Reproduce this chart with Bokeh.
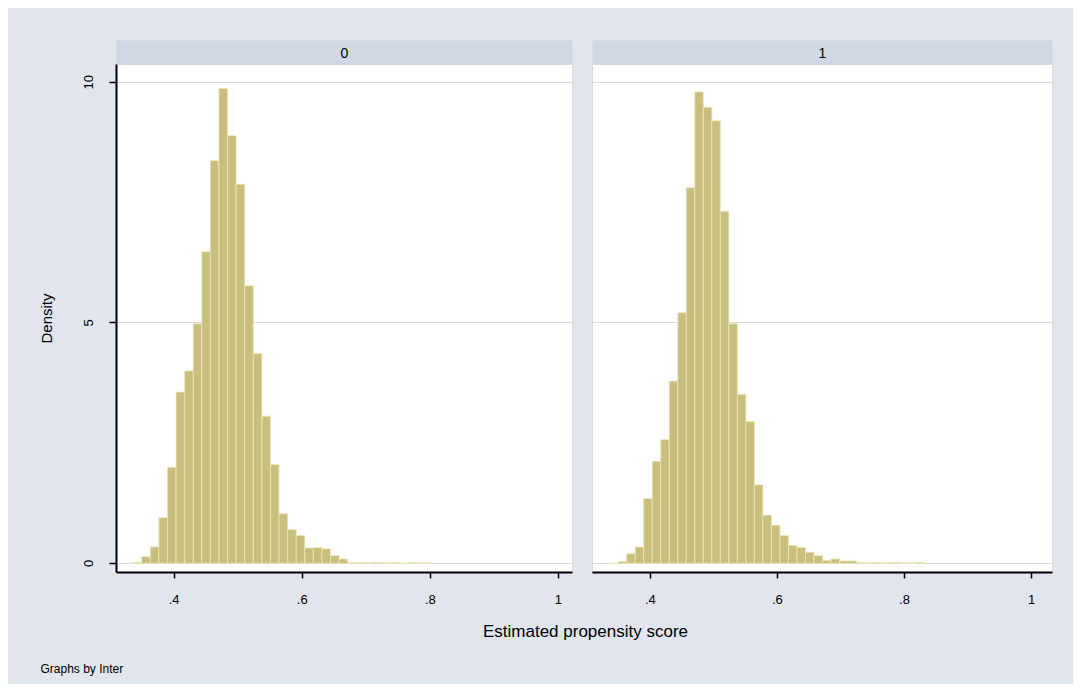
from bokeh.plotting import figure
from bokeh.layouts import row, column
from bokeh.models import Range1d, FixedTicker, CustomJSTickFormatter, Label, Spacer
from bokeh.embed import file_html
from bokeh.resources import INLINE

# ---------------- data ----------------
panel_names = ["0", "1"]
bin_start = 0.336
bin_width = 0.0134
density_0 = [0.02, 0.14, 0.34, 0.95, 2.00, 3.56, 4.00, 4.98, 6.48, 8.37,
             9.87, 8.89, 7.88, 5.77, 4.36, 3.06, 2.05, 1.03, 0.70, 0.58,
             0.32, 0.33, 0.30, 0.16, 0.09, 0.02, 0.02, 0.01, 0.02, 0.01,
             0.02, 0.00, 0.02, 0.01, 0.01]
density_1 = [0.00, 0.04, 0.20, 0.34, 1.35, 2.12, 2.57, 3.79, 5.21, 7.81,
             9.80, 9.48, 9.20, 7.32, 4.98, 3.51, 2.95, 1.63, 1.00, 0.79,
             0.58, 0.37, 0.33, 0.23, 0.16, 0.06, 0.09, 0.05, 0.05, 0.02,
             0.01, 0.02, 0.01, 0.02, 0.01, 0.01, 0.02]
x_ticks = [0.4, 0.6, 0.8, 1.0]
x_tick_labels = [".4", ".6", ".8", "1"]
y_ticks = [0, 5, 10]
y_tick_labels = ["0", "5", "10"]
x_title = "Estimated propensity score"
y_title = "Density"
note = "Graphs by Inter"

# ---------------- style ----------------
FONT = "Liberation Sans"
BG = "#e0e5ee"
STRIP = "#cfd8e4"
BAR_FILL = "#c8bf7e"
BAR_LINE = "#ece6b3"
GRID = "#dcdcdc"
XR_LEFT = (0.310, 1.022)
XR_RIGHT = (0.309, 1.033)
YR = (-0.19, 10.37)


def tick_fmt(tvals, tlabels):
    return CustomJSTickFormatter(args=dict(tvals=tvals, tlabels=tlabels), code="""
        let best = 0;
        for (let i = 0; i < tvals.length; i++) {
            if (Math.abs(tvals[i] - tick) < Math.abs(tvals[best] - tick)) best = i;
        }
        return tlabels[best];
    """)


def strip(name, fw, bl, br):
    s = figure(frame_width=fw, frame_height=24, x_range=Range1d(0, 1), y_range=Range1d(0, 1),
               min_border_left=bl, min_border_right=br, min_border_top=32, min_border_bottom=0,
               toolbar_location=None, output_backend="svg",
               x_axis_location=None, y_axis_location=None)
    s.grid.visible = False
    s.background_fill_color = STRIP
    s.border_fill_color = BG
    s.outline_line_color = None
    s.add_layout(Label(x=0.5, y=0.5, text=name, text_align="center", text_baseline="middle",
                       text_font=FONT, text_font_size="14px", text_color="black"))
    return s


def panel(dens, xr, fw, bl, br, show_y):
    p = figure(frame_width=fw, frame_height=508, x_range=Range1d(*xr), y_range=Range1d(*YR),
               min_border_left=bl, min_border_right=br, min_border_top=0, min_border_bottom=46,
               toolbar_location=None, output_backend="svg",
               y_axis_location="left" if show_y else None)
    p.background_fill_color = "white"
    p.border_fill_color = BG
    p.outline_line_color = "#d6dae2"
    lefts = [bin_start + i * bin_width for i in range(len(dens))]
    rights = [l + bin_width for l in lefts]
    p.quad(left=lefts, right=rights, bottom=0, top=dens,
           fill_color=BAR_FILL, line_color=BAR_LINE, line_width=0.8)
    p.xgrid.visible = False
    p.ygrid.ticker = FixedTicker(ticks=y_ticks)
    p.ygrid.grid_line_color = GRID
    p.ygrid.grid_line_width = 1
    p.ygrid.level = "underlay"

    xa = p.xaxis[0]
    xa.ticker = FixedTicker(ticks=x_ticks)
    xa.formatter = tick_fmt(x_ticks, x_tick_labels)
    xa.axis_line_width = 2
    xa.axis_line_color = "black"
    xa.major_tick_out = 6
    xa.major_tick_in = 0
    xa.major_tick_line_width = 1.5
    xa.minor_tick_out = 0
    xa.minor_tick_in = 0
    xa.major_label_text_font = FONT
    xa.major_label_text_font_size = "13px"
    xa.major_label_text_color = "black"
    xa.major_label_standoff = 16

    if show_y:
        ya = p.yaxis[0]
        ya.ticker = FixedTicker(ticks=y_ticks)
        ya.formatter = tick_fmt(y_ticks, y_tick_labels)
        ya.axis_line_width = 2
        ya.axis_line_color = "black"
        ya.major_tick_out = 7
        ya.major_tick_in = 0
        ya.major_tick_line_width = 1.5
        ya.minor_tick_out = 0
        ya.minor_tick_in = 0
        ya.major_label_orientation = "vertical"
        ya.major_label_text_font = FONT
        ya.major_label_text_font_size = "13px"
        ya.major_label_text_color = "black"
        ya.major_label_standoff = 16
        ya.axis_label = y_title
        ya.axis_label_text_font = FONT
        ya.axis_label_text_font_size = "15px"
        ya.axis_label_text_font_style = "normal"
        ya.axis_label_text_color = "black"
        ya.axis_label_standoff = 27
    return p


s0 = strip(panel_names[0], 456, 108, 10)
p0 = panel(density_0, XR_LEFT, 456, 108, 10, True)
s1 = strip(panel_names[1], 460, 10, 21)
p1 = panel(density_1, XR_RIGHT, 460, 10, 21, False)

f3 = figure(frame_width=1065, frame_height=66, x_range=Range1d(0, 1065), y_range=Range1d(0, 66),
            min_border_left=0, min_border_right=0, min_border_top=0, min_border_bottom=0,
            toolbar_location=None, output_backend="svg",
            x_axis_location=None, y_axis_location=None)
f3.grid.visible = False
f3.background_fill_color = BG
f3.border_fill_color = BG
f3.outline_line_color = None
f3.add_layout(Label(x=577, y=53, text=x_title, text_align="center", text_baseline="middle",
                    text_font=FONT, text_font_size="17px", text_color="black"))
f3.add_layout(Label(x=32, y=16, text=note, text_align="left", text_baseline="middle",
                    text_font=FONT, text_font_size="12px", text_color="black"))

content = column(
    row(column(s0, p0, spacing=0, styles={"background-color": BG}),
        column(s1, p1, spacing=0, styles={"background-color": BG}),
        spacing=0, styles={"background-color": BG}),
    f3, spacing=0, styles={"background-color": BG})

layout = column(Spacer(height=8, width=1), row(Spacer(width=8, height=1), content, spacing=0), spacing=0)

open("out.html", "w").write(file_html(layout, INLINE))
